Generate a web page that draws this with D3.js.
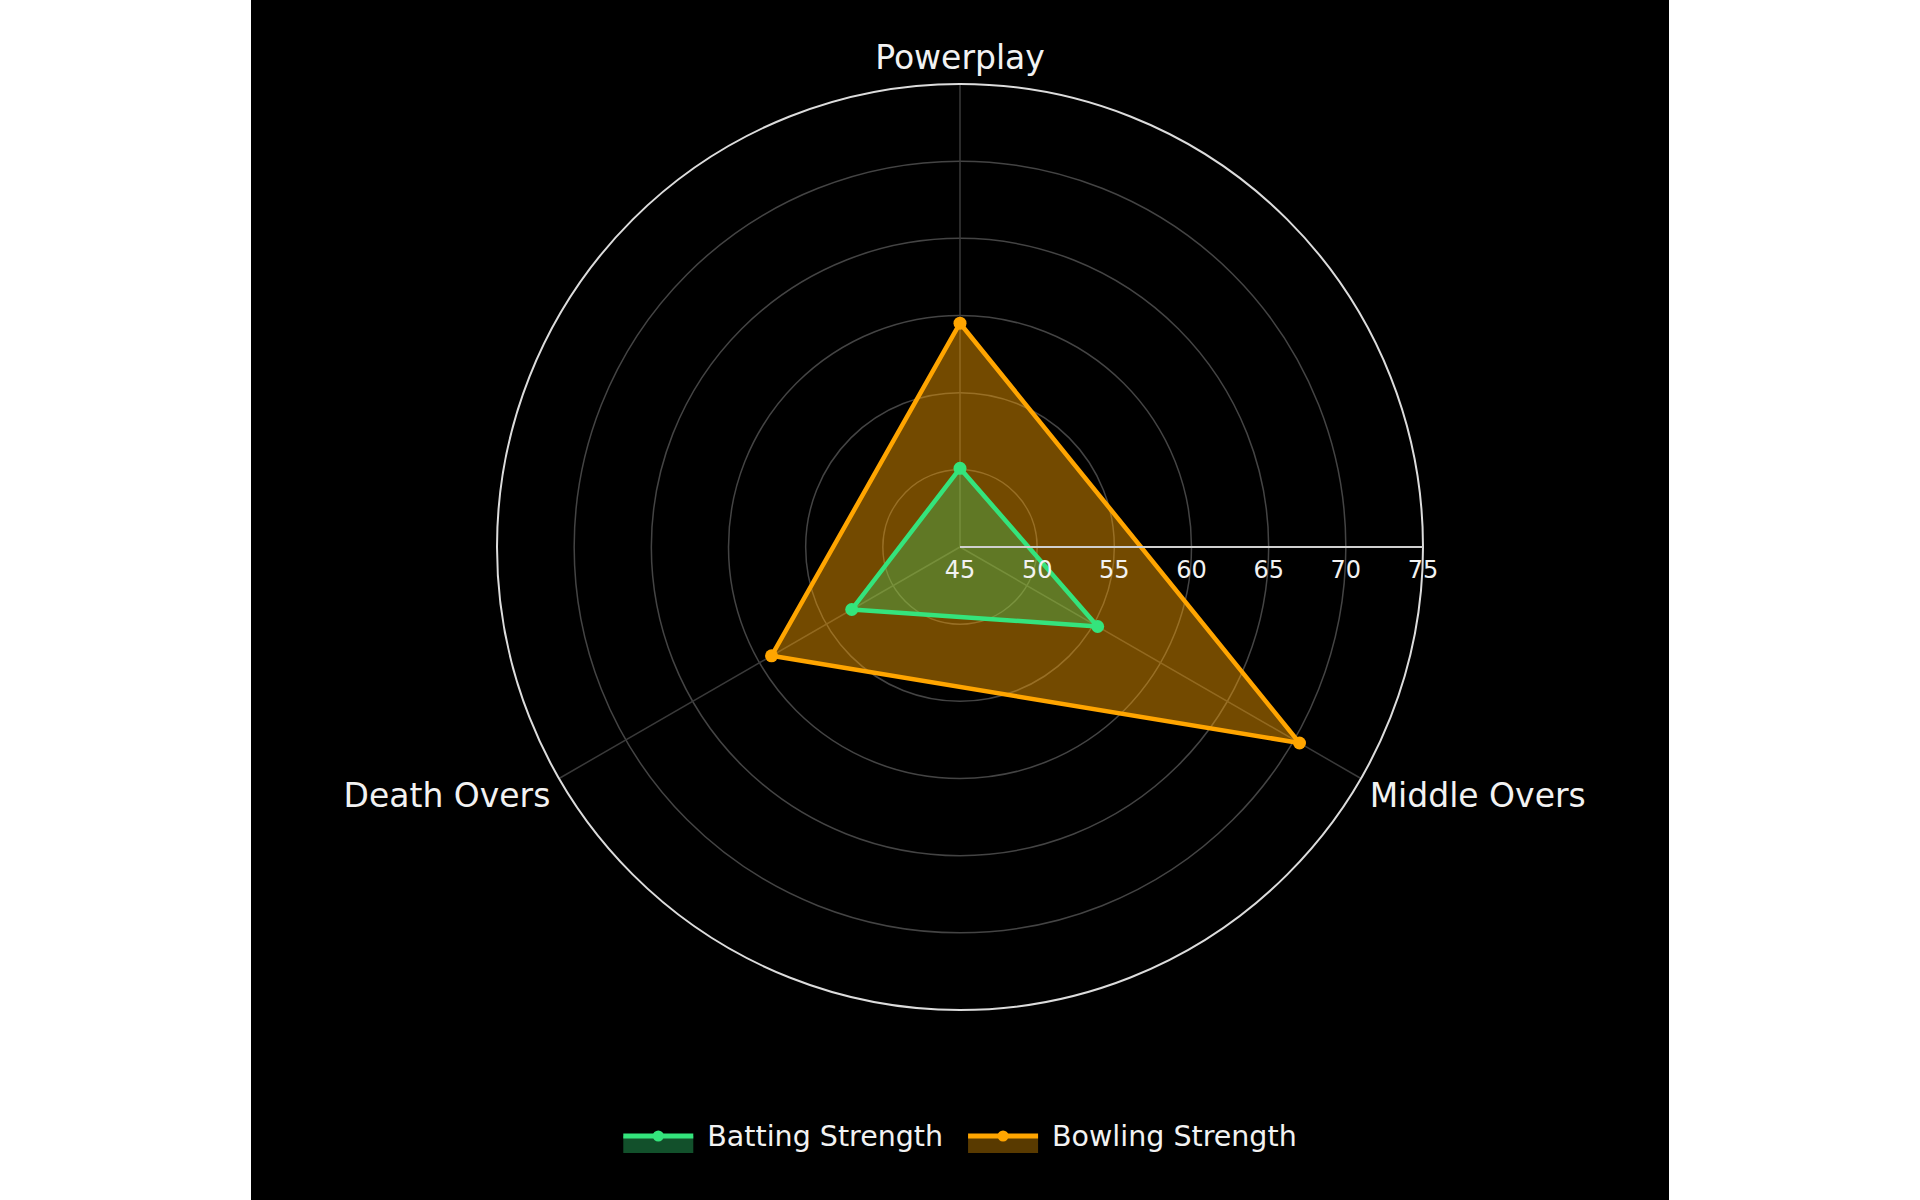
<!DOCTYPE html>
<html>
<head>
<meta charset="utf-8">
<script src="https://cdn.jsdelivr.net/npm/d3@7"></script>
<style>
  body { margin: 0; background: #fff; }
  svg { display: block; }
  text { font-family: "DejaVu Sans", Verdana, sans-serif; fill: #f2f2f2; }
</style>
</head>
<body>
<div id="chart"></div>
<script>
// data
var categories = ["Powerplay", "Middle Overs", "Death Overs"];
var battingStrength = [50.1, 55.3, 53.1];
var bowlingStrength = [59.5, 70.4, 59.1];
var radialTicks = [45, 50, 55, 60, 65, 70, 75];
var seriesNames = ["Batting Strength", "Bowling Strength"];

var width = 1920, height = 1200;
var panelWidth = 1418;
var cx = 960, cy = 547, outerRadius = 463;

var green = "#34e47c", orange = "#ffa500";

var svg = d3.select("#chart").append("svg")
    .attr("width", width)
    .attr("height", height);

svg.append("rect")
    .attr("x", (width - panelWidth) / 2)
    .attr("width", panelWidth)
    .attr("height", height)
    .attr("fill", "#000");

var r = d3.scaleLinear().domain([45, 75]).range([0, outerRadius]);
// clockwise from 12 o'clock, like d3.lineRadial
var angle = d3.scaleLinear().domain([0, categories.length]).range([0, 2 * Math.PI]);

var g = svg.append("g").attr("transform", "translate(" + cx + "," + cy + ")");

// grid circles
g.selectAll("circle.grid")
    .data(radialTicks.slice(1, -1))
    .enter().append("circle")
    .attr("class", "grid")
    .attr("r", function(d){ return r(d); })
    .attr("fill", "none")
    .attr("stroke", "#444")
    .attr("stroke-width", 1.5);

// angular grid lines
g.selectAll("line.spoke")
    .data(categories)
    .enter().append("line")
    .attr("x1", 0).attr("y1", 0)
    .attr("x2", function(d,i){ return outerRadius * Math.sin(angle(i)); })
    .attr("y2", function(d,i){ return -outerRadius * Math.cos(angle(i)); })
    .attr("stroke", "#3a3a3a")
    .attr("stroke-width", 1.5);

// outer circle
g.append("circle")
    .attr("r", r(75))
    .attr("fill", "none")
    .attr("stroke", "#dcdcdc")
    .attr("stroke-width", 2);

var radarLine = d3.lineRadial()
    .angle(function(d,i){ return angle(i); })
    .radius(function(d){ return r(d); })
    .curve(d3.curveLinearClosed);

function drawSeries(values, color, fillOpacity){
  g.append("path")
      .datum(values)
      .attr("d", radarLine)
      .attr("fill", color)
      .attr("fill-opacity", fillOpacity)
      .attr("stroke", color)
      .attr("stroke-width", 4.5)
      .attr("stroke-linejoin", "round");

  g.selectAll(null)
      .data(values)
      .enter().append("circle")
      .attr("cx", function(d,i){ return r(d) * Math.sin(angle(i)); })
      .attr("cy", function(d,i){ return -r(d) * Math.cos(angle(i)); })
      .attr("r", 6.5)
      .attr("fill", color);
}

drawSeries(bowlingStrength, orange, 0.45);
drawSeries(battingStrength, green, 0.3);

// radial axis along 3 o'clock
g.append("line")
    .attr("x1", r(45)).attr("x2", r(75))
    .attr("y1", 0).attr("y2", 0)
    .attr("stroke", "#cfcfcf")
    .attr("stroke-width", 2);

g.selectAll("text.tick")
    .data(radialTicks)
    .enter().append("text")
    .attr("x", function(d){ return r(d); })
    .attr("y", 31)
    .attr("text-anchor", "middle")
    .style("font-size", "24px")
    .text(function(d){ return d; });

// category labels
g.selectAll("text.cat")
    .data(categories)
    .enter().append("text")
    .attr("x", function(d,i){
      var a = angle(i);
      return Math.abs(Math.sin(a)) < 0.01 ? 0 : (outerRadius + 10) * Math.sin(a);
    })
    .attr("y", function(d,i){
      var a = angle(i);
      return Math.cos(a) > 0.5 ? -(outerRadius + 15) : -(outerRadius + 10) * Math.cos(a);
    })
    .attr("dy", function(d,i){ return Math.cos(angle(i)) > 0.5 ? 0 : "0.72em"; })
    .attr("text-anchor", function(d,i){
      var s = Math.sin(angle(i));
      if (Math.abs(s) < 0.01) return "middle";
      return s > 0 ? "start" : "end";
    })
    .style("font-size", "33px")
    .text(function(d){ return d; });

// legend
var legend = svg.append("g").attr("transform", "translate(0,1136)");
var legendColors = [green, orange];
var items = legend.selectAll("g")
    .data(seriesNames)
    .enter().append("g");

items.append("rect")
    .attr("x", 0).attr("y", 0)
    .attr("width", 70).attr("height", 17)
    .attr("fill", function(d,i){ return legendColors[i]; })
    .attr("fill-opacity", 0.35);
items.append("line")
    .attr("x1", 0).attr("x2", 70)
    .attr("stroke", function(d,i){ return legendColors[i]; })
    .attr("stroke-width", 5);
items.append("circle")
    .attr("cx", 35).attr("r", 5.5)
    .attr("fill", function(d,i){ return legendColors[i]; });
items.append("text")
    .attr("x", 84)
    .attr("y", 10)
    .style("font-size", "28.5px")
    .text(function(d){ return d; });

var offsets = [], total = 0;
items.each(function(d,i){
  var w = 84 + this.querySelector("text").getComputedTextLength();
  offsets.push(total);
  total += w + (i < seriesNames.length - 1 ? 25 : 0);
});
items.attr("transform", function(d,i){
  return "translate(" + (cx - total / 2 + offsets[i]) + ",0)";
});
</script>
</body>
</html>
